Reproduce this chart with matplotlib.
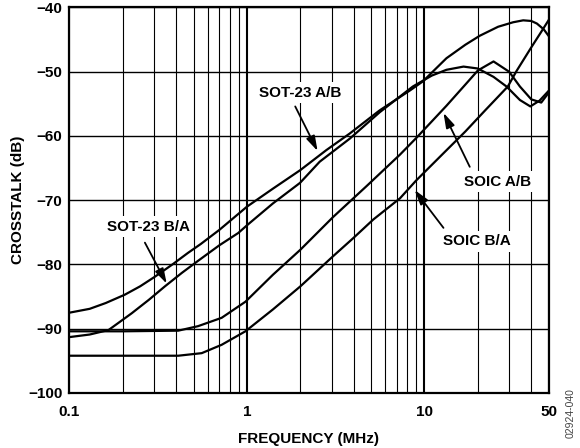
import numpy as np
import matplotlib
matplotlib.use("Agg")
import matplotlib.pyplot as plt

plt.rcParams['font.family'] = ['Liberation Sans', 'DejaVu Sans']
plt.rcParams['font.weight'] = 'bold'

# crosstalk curves (frequency in MHz, crosstalk in dB)
sot23_ab_f = [0.1, 0.13, 0.16, 0.205, 0.25, 0.303, 0.38, 0.465, 0.55, 0.7, 1.0, 1.4, 2.0, 2.8,
              3.8, 5.6, 8.3, 9.8, 13.3, 17, 20.5, 26, 31.6, 36, 40, 43, 47, 50]
sot23_ab_db = [-87.5, -86.9, -86.0, -84.7, -83.4, -81.9, -80.0, -78.2, -76.8, -74.6, -71.0, -68.2,
               -65.3, -62.2, -59.6, -56.0, -52.9, -51.5, -47.9, -45.8, -44.4, -43.0, -42.3, -42.0,
               -42.1, -42.5, -43.4, -44.4]

sot23_ba_f = [0.1, 0.13, 0.166, 0.224, 0.28, 0.345, 0.43, 0.532, 0.7, 0.893, 1.01, 1.4, 1.99, 2.57,
              3.8, 5.6, 8.6, 11, 13.3, 16.6, 20, 24.5, 29, 34.5, 39.5, 44.5, 50]
sot23_ba_db = [-91.3, -90.9, -90.2, -87.6, -85.5, -83.4, -81.3, -79.4, -77.0, -75.1, -73.8, -70.5,
               -67.3, -64.0, -60.4, -56.3, -52.3, -50.6, -49.7, -49.2, -49.5, -50.8, -52.3, -54.4,
               -55.4, -54.5, -53.0]

soic_ab_f = [0.1, 0.2, 0.41, 0.53, 0.72, 0.98, 1.4, 2.0, 3.06, 4.72, 7.28, 9.0, 13.3, 17, 20,
             24.5, 30, 34.5, 40, 45.5, 50]
soic_ab_db = [-90.4, -90.4, -90.3, -89.6, -88.3, -85.8, -81.6, -77.7, -72.6, -67.8, -62.9, -60.3,
              -55.3, -52.0, -49.8, -48.4, -50.0, -52.3, -54.3, -54.8, -53.3]

soic_ba_f = [0.1, 0.2, 0.41, 0.556, 0.72, 0.98, 1.4, 2.0, 3.06, 3.97, 5.15, 7.28, 9.0, 13, 17,
             22, 29.5, 33, 40, 45, 50]
soic_ba_db = [-94.2, -94.2, -94.2, -93.8, -92.5, -90.4, -87.0, -83.4, -78.7, -75.9, -73.0, -69.7,
              -66.9, -62.5, -59.3, -56.0, -52.3, -49.9, -46.2, -44.0, -42.0]

x_ticks = [0.1, 1, 10, 50]
x_tick_labels = ['0.1', '1', '10', '50']
x_minor = [0.2, 0.3, 0.4, 0.5, 0.6, 0.7, 0.8, 0.9, 2, 3, 4, 5, 6, 7, 8, 9, 20, 30, 40]
y_ticks = [-100, -90, -80, -70, -60, -50, -40]

fig = plt.figure(figsize=(5.8, 4.48), dpi=100)
ax = fig.add_axes([0.1198, 0.1228, 0.8259, 0.8605])

ax.set_xscale('log')
ax.set_xlim(0.1, 50)
ax.set_ylim(-100, -40)
ax.set_xticks(x_ticks)
ax.set_xticklabels(x_tick_labels)
ax.set_xticks(x_minor, minor=True)
ax.xaxis.set_minor_formatter(matplotlib.ticker.NullFormatter())
ax.set_yticks(y_ticks)
ax.set_yticklabels([f"\u2212{abs(v)}" for v in y_ticks])
ax.tick_params(which='both', length=0, labelsize=11)
ax.tick_params(axis='x', pad=9)
ax.tick_params(axis='y', pad=5)

ax.xaxis.grid(True, which='major', color='black', lw=1.5)
ax.xaxis.grid(True, which='minor', color='black', lw=0.8)
ax.yaxis.grid(True, which='major', color='black', lw=1.0)
ax.set_axisbelow(True)
for s in ax.spines.values():
    s.set_linewidth(1.6)

curves = [(sot23_ab_f, sot23_ab_db), (sot23_ba_f, sot23_ba_db),
          (soic_ab_f, soic_ab_db), (soic_ba_f, soic_ba_db)]
for f, db in curves:
    ax.plot(f, db, color='black', lw=1.6, zorder=3)

ax.set_xlabel('FREQUENCY (MHz)', fontsize=11, fontweight='bold', labelpad=9)
ax.set_ylabel('CROSSTALK (dB)', fontsize=11, fontweight='bold', labelpad=2)

# label text position, arrow tail, arrow tip (tip sits on the curve)
labels = [
    ('SOT-23 A/B', (1.99, -53.3), (1.87, -55.4), 2.5, (sot23_ab_f, sot23_ab_db), 0.9),
    ('SOT-23 B/A', (0.277, -74.1), (0.266, -76.6), 0.353, (sot23_ba_f, sot23_ba_db), 0.2),
    ('SOIC A/B', (25.9, -67.1), (18.0, -64.8), 12.8, (soic_ab_f, soic_ab_db), -0.6),
    ('SOIC B/A', (19.7, -76.4), (12.8, -74.3), 8.8, (soic_ba_f, soic_ba_db), -1.2),
]
for text, pos, tail, tip_f, (cf, cdb), off in labels:
    ax.text(pos[0], pos[1], text, fontsize=11, fontweight='bold', ha='center', va='center',
            zorder=4, bbox=dict(facecolor='white', edgecolor='none', pad=2.5))
    tip_db = np.interp(np.log10(tip_f), np.log10(cf), cdb) + off
    ax.annotate('', xy=(tip_f, tip_db), xytext=tail, zorder=5,
                arrowprops=dict(arrowstyle='-|>,head_length=0.6,head_width=0.18',
                                color='black', lw=1.3, mutation_scale=15,
                                shrinkA=0, shrinkB=0))

fig.text(0.984, 0.078, '02924-040', rotation=90, fontsize=7.5, fontweight='normal',
         color='#444444', ha='center', va='center')

fig.savefig('out.png', dpi=100)
